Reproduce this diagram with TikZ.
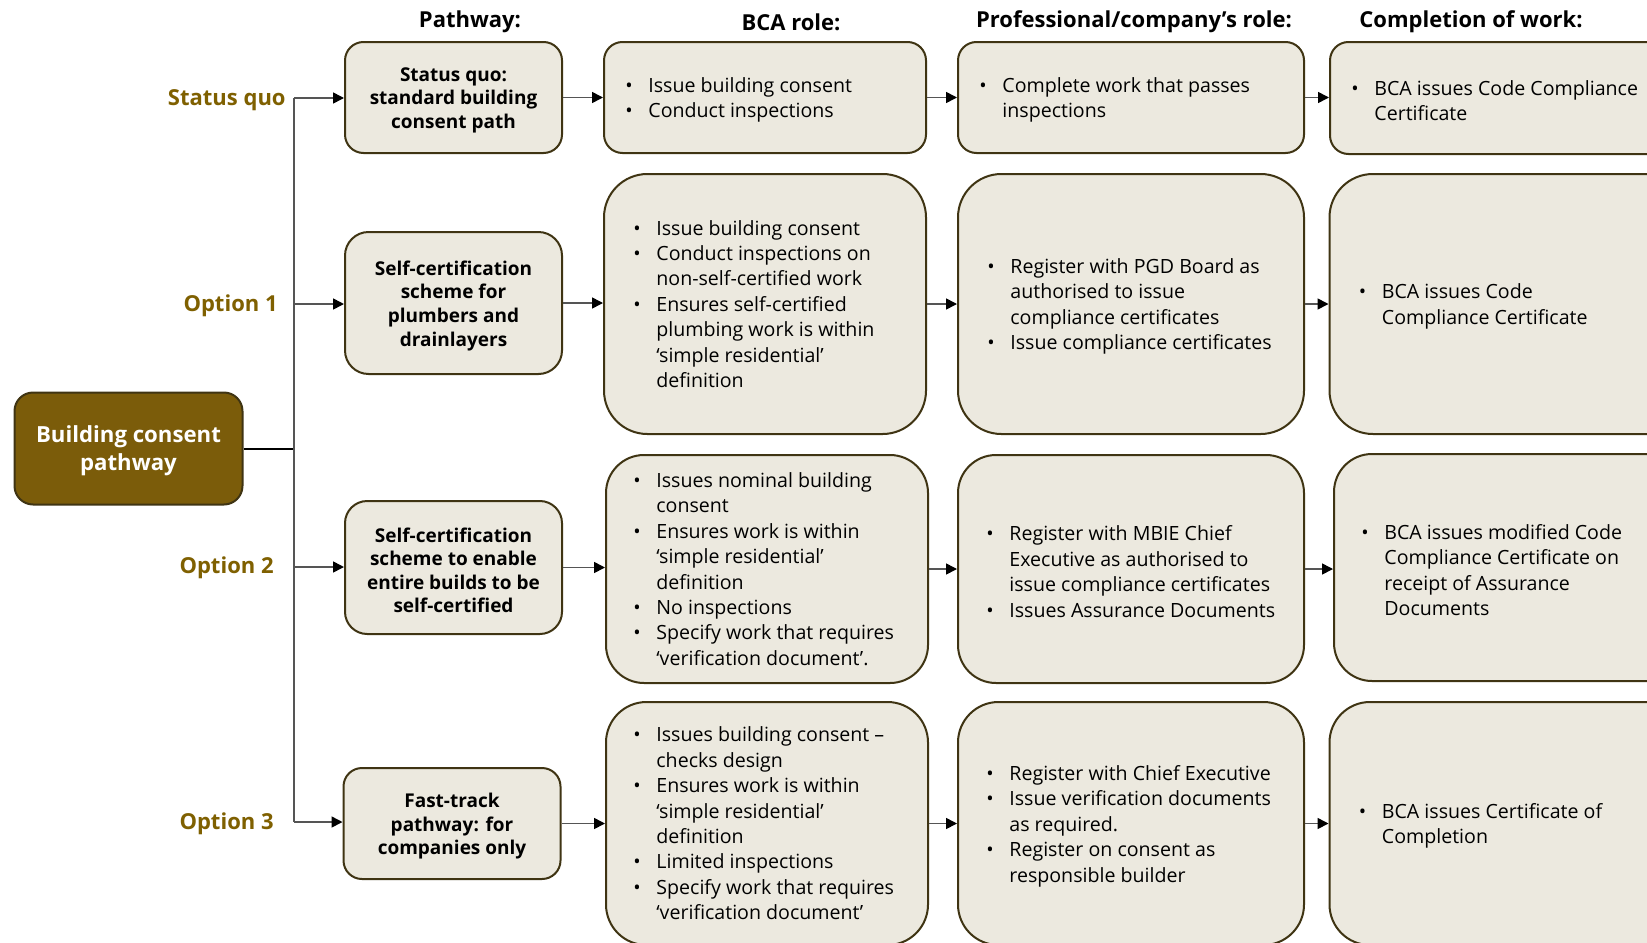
\documentclass[tikz,border=0pt]{standalone}
\usepackage{fontspec}
\setmainfont{Open Sans}
\usetikzlibrary{arrows.meta}

\definecolor{boxfill}{HTML}{ECE9DF}
\definecolor{boxline}{HTML}{3F3413}
\definecolor{rootfill}{HTML}{7B5C0A}
\definecolor{labelgold}{HTML}{7F6000}
\definecolor{wire}{HTML}{555555}

% bullet with fixed hanging indent, and the matching indent for wrapped lines
\newcommand{\bu}{\makebox[11.5pt][l]{\textbullet}}
\newcommand{\ind}{\hspace*{11.5pt}}

\begin{document}
\begin{tikzpicture}[x=0.5pt,y=-0.5pt,
  card/.style={draw=boxline, fill=boxfill, line width=1pt, inner sep=0pt},
  pathbox/.style={card, minimum width=108.5pt},
  pathtxt/.style={align=center, inner sep=0pt, yshift=-1.4pt,
    font=\fontsize{9.5}{11.8}\selectfont\bfseries},
  rolebox/.style={card},
  txt/.style={anchor=west, align=left, inner sep=0pt, yshift=-1.3pt,
    font=\fontsize{9.8}{12.7}\selectfont},
  head/.style={font=\fontsize{11}{13}\selectfont\bfseries, inner sep=0pt},
  lab/.style={anchor=east, inner sep=0pt, text=labelgold,
    font=\fontsize{11}{13}\selectfont\bfseries},
  rootbox/.style={draw=boxline, fill=rootfill, line width=1pt,
    minimum width=114pt, minimum height=56pt, rounded corners=9.3pt, inner sep=0pt},
  roottxt/.style={text=white, align=center, inner sep=0pt,
    font=\fontsize{11.1}{14.1}\selectfont\bfseries},
  wireline/.style={draw=wire, line width=0.8pt},
  flow/.style={wireline, -{Triangle[length=5.5pt,width=5.5pt,color=black]}}
]
\clip (0,0) rectangle (1647,942);
\fill[white] (0,0) rectangle (1647,942);

% column headings
\node[head] (hpath) at (470,22) {Pathway:};
\node[head] (hbca)  at (791,22) {BCA role:};
\node[head] (hpro)  at (1134,22) {Professional/company’s role:};
\node[head] (hdone) at (1471,22) {Completion of work:};

% root
\node[rootbox] (root) at (128.5,448.5) {};
\node[roottxt] (roottext) at (128.5,451) {Building consent\\pathway};

% pathway boxes
\node[pathbox, minimum height=55.5pt, rounded corners=9.25pt] (P1) at (453.5,97.5) {};
\node[pathbox, minimum height=71pt, rounded corners=11.8pt] (P2) at (453.5,303) {};
\node[pathbox, minimum height=66.5pt, rounded corners=11.1pt] (P3) at (453.5,567.5) {};
\node[pathbox, minimum height=55.5pt, rounded corners=9.25pt] (P4) at (452,823.5) {};
\node[pathtxt] (P1t) at (P1) {Status quo:\\standard building\\consent path};
\node[pathtxt] (P2t) at (P2) {Self-certification\\scheme for\\plumbers and\\drainlayers};
\node[pathtxt] (P3t) at (P3) {Self-certification\\scheme to enable\\entire builds to be\\self-certified};
\node[pathtxt] (P4t) at (P4) {Fast-track\\pathway: for\\companies only};

% option labels
\node[lab] (L1) at (286,100) {Status quo};
\node[lab] (L2) at (278,306) {Option 1};
\node[lab] (L3) at (274,568) {Option 2};
\node[lab] (L4) at (274,824) {Option 3};

% row 1
\node[rolebox, minimum width=161pt, minimum height=55.5pt, rounded corners=9.25pt] (B1) at (765,97.5) {};
\node[rolebox, minimum width=173pt, minimum height=55.5pt, rounded corners=9.25pt] (R1) at (1131,97.5) {};
\node[rolebox, minimum width=185pt, minimum height=56pt, rounded corners=9.25pt] (C1) at (1515,98) {};
\node[txt, xshift=11pt] (B1t) at (B1.west)
  {\bu Issue building consent\\\bu Conduct inspections};
\node[txt, xshift=11pt] (R1t) at (R1.west)
  {\bu Complete work that passes\\\ind inspections};
\node[txt, xshift=11pt] (C1t) at (C1.west)
  {\bu BCA issues Code Compliance\\\ind Certificate};

% row 2
\node[rolebox, minimum width=161pt, minimum height=130pt, rounded corners=21.7pt] (B2) at (765,304) {};
\node[rolebox, minimum width=173pt, minimum height=130pt, rounded corners=21.7pt] (R2) at (1131,304) {};
\node[rolebox, minimum width=185pt, minimum height=130pt, rounded corners=21.7pt] (C2) at (1514.5,304) {};
\node[txt, xshift=15pt, yshift=1.3pt] (B2t) at (B2.west)
  {\bu Issue building consent\\\bu Conduct inspections on\\\ind non-self-certified work\\
   \bu Ensures self-certified\\\ind plumbing work is within\\\ind ‘simple residential’\\\ind definition};
\node[txt, xshift=15pt] (R2t) at (R2.west)
  {\bu Register with PGD Board as\\\ind authorised to issue\\\ind compliance certificates\\
   \bu Issue compliance certificates};
\node[txt, xshift=15pt] (C2t) at (C2.west)
  {\bu BCA issues Code\\\ind Compliance Certificate};

% row 3
\node[rolebox, minimum width=161pt, minimum height=114pt, rounded corners=19pt] (B3) at (767,569) {};
\node[rolebox, minimum width=173pt, minimum height=114pt, rounded corners=19pt] (R3) at (1131,569) {};
\node[rolebox, minimum width=183pt, minimum height=113.5pt, rounded corners=19pt] (C3) at (1517,567.5) {};
\node[txt, xshift=14pt, yshift=1.3pt] (B3t) at (B3.west)
  {\bu Issues nominal building\\\ind consent\\\bu Ensures work is within\\\ind ‘simple residential’\\\ind definition\\
   \bu No inspections\\\bu Specify work that requires\\\ind ‘verification document’.};
\node[txt, xshift=14.5pt] (R3t) at (R3.west)
  {\bu Register with MBIE Chief\\\ind Executive as authorised to\\\ind issue compliance certificates\\
   \bu Issues Assurance Documents};
\node[txt, xshift=14pt] (C3t) at (C3.west)
  {\bu BCA issues modified Code\\\ind Compliance Certificate on\\\ind receipt of Assurance\\\ind Documents};

% row 4
\node[rolebox, minimum width=161pt, minimum height=121.5pt, rounded corners=20.25pt] (B4) at (767,823.5) {};
\node[rolebox, minimum width=173pt, minimum height=121.5pt, rounded corners=20.25pt] (R4) at (1131,823.5) {};
\node[rolebox, minimum width=185pt, minimum height=121.5pt, rounded corners=20.25pt] (C4) at (1514.5,823.5) {};
\node[txt, xshift=14pt, yshift=1.3pt] (B4t) at (B4.west)
  {\bu Issues building consent –\\\ind checks design\\\bu Ensures work is within\\\ind ‘simple residential’\\\ind definition\\
   \bu Limited inspections\\\bu Specify work that requires\\\ind ‘verification document’};
\node[txt, xshift=14.5pt] (R4t) at (R4.west)
  {\bu Register with Chief Executive\\\bu Issue verification documents\\\ind as required.\\
   \bu Register on consent as\\\ind responsible builder};
\node[txt, xshift=15pt] (C4t) at (C4.west)
  {\bu BCA issues Certificate of\\\ind Completion};

% trunk and branches
\coordinate (t1) at (294,98);
\coordinate (t2) at (294,304);
\coordinate (t3) at (294,567);
\coordinate (t4) at (294,822);
\draw[draw=black, line width=1pt] (root.east) -- (root.east -| t1);
\draw[wireline] (t1) -- (t4);
\draw[flow] (t1) -- (P1.west |- t1);
\draw[flow] (t2) -- (P2.west |- t2);
\draw[flow] (t3) -- (P3.west |- t3);
\draw[flow] (t4) -- (P4.west |- t4);

% flow along each row
\foreach \r in {1,2,3,4}{
  \draw[flow] (P\r.east) -- (P\r.east -| B\r.west);
  \draw[flow] (B\r.east) -- (B\r.east -| R\r.west);
  \draw[flow] (R\r.east) -- (R\r.east -| C\r.west);
}
\end{tikzpicture}
\end{document}
